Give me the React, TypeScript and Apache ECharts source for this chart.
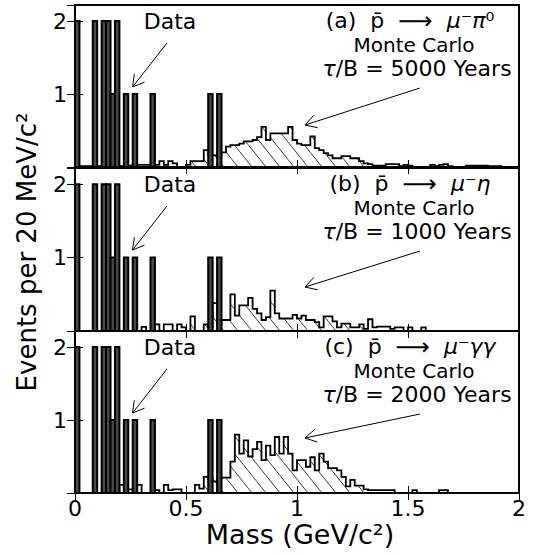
import React, { useEffect, useRef } from "react";
import * as echarts from "echarts";

// ---------- data ----------
const BIN_WIDTH = 0.02; // 20 MeV/c^2 bins
const X_MIN = 0;
const X_MAX = 2;
const Y_MAX = 2.22;
const xTickLabels = ["0", "0.5", "1", "1.5", "2"];

// measured events (same in every panel): bin index -> count
const dataBins = [0, 4, 6, 7, 8, 9, 11, 13, 17, 30, 32];
const dataCounts = [2, 2, 2, 2, 1, 2, 1, 1, 1, 1, 1];

// Monte Carlo histograms, 100 bins of 20 MeV from 0 to 2 GeV
const mcA = [
  0.02, 0.01, 0.01, 0.01, 0.01, 0.01, 0.01, 0.01, 0.01, 0.01,
  0.01, 0.01, 0.02, 0.02, 0.03, 0.03, 0.03, 0.03, 0.03, 0.08,
  0.03, 0.08, 0.05, 0, 0, 0.03, 0.08, 0.08, 0.08, 0.23,
  0.16, 0.16, 0.16, 0.2, 0.28, 0.3, 0.3, 0.32, 0.35, 0.35,
  0.37, 0.41, 0.55, 0.37, 0.46, 0.46, 0.46, 0.46, 0.55, 0.37,
  0.32, 0.3, 0.3, 0.42, 0.26, 0.23, 0.19, 0.16, 0.12, 0.12,
  0.15, 0.15, 0.12, 0.12, 0.08, 0.05, 0.04, 0.02, 0.02, 0.02,
  0.04, 0.04, 0.04, 0.01, 0.03, 0.02, 0, 0, 0, 0,
  0.03, 0.01, 0.03, 0.04, 0.01, 0, 0, 0, 0.02, 0.02,
  0.02, 0.02, 0.02, 0.01, 0.01, 0.01, 0, 0, 0, 0,
];
const mcB = [
  0, 0, 0, 0, 0, 0, 0, 0, 0, 0,
  0, 0, 0, 0, 0, 0.055, 0, 0, 0.09, 0,
  0.09, 0.09, 0, 0.09, 0.05, 0, 0.2, 0, 0, 0.09,
  0.05, 0.38, 0.1, 0.15, 0.15, 0.5, 0.21, 0.35, 0.35, 0.45,
  0.3, 0.24, 0.15, 0.19, 0.55, 0.24, 0.17, 0.17, 0.17, 0.22,
  0.17, 0.21, 0.15, 0.15, 0.12, 0.05, 0.2, 0.2, 0.13, 0.05,
  0.1, 0.1, 0.05, 0.05, 0.09, 0.03, 0.16, 0.05, 0.06, 0.06,
  0.06, 0.03, 0.05, 0.05, 0, 0.05, 0, 0, 0.05, 0,
  0, 0, 0, 0, 0, 0, 0, 0, 0, 0,
  0, 0, 0, 0, 0, 0, 0, 0, 0, 0,
];
const mcC = [
  0, 0, 0, 0, 0, 0, 0, 0, 0, 0,
  0.11, 0.05, 0.05, 0, 0.11, 0, 0, 0, 0.04, 0,
  0.11, 0.04, 0.05, 0.05, 0, 0, 0, 0.11, 0.06, 0.22,
  0.2, 0.16, 0.2, 0.21, 0.21, 0.43, 0.8, 0.54, 0.72, 0.5,
  0.6, 0.7, 0.45, 0.65, 0.52, 0.77, 0.54, 0.77, 0.54, 0.31,
  0.45, 0.45, 0.36, 0.49, 0.31, 0.54, 0.43, 0.34, 0.34, 0.31,
  0.22, 0.09, 0.18, 0.1, 0.1, 0.05, 0.04, 0.04, 0.04, 0.04,
  0.04, 0.04, 0, 0, 0, 0, 0.04, 0, 0, 0,
  0, 0, 0.04, 0.04, 0, 0, 0, 0, 0, 0,
  0, 0, 0, 0, 0, 0, 0, 0, 0, 0,
];
const mcSeries = [mcA, mcB, mcC];
const hatchRange = [0.5, 1.32];

const panelTags = ["(a)", "(b)", "(c)"];
const panelFinalStates = [
  "{g|μ}{n|⁻}{g|π}{n|⁰}",
  "{g|μ}{n|⁻}{g|η}",
  "{g|μ}{n|⁻}{g|γγ}",
];
const panelLifetimes = ["5000", "1000", "2000"];

// ---------- layout ----------
const W = 538;
const H = 555;
const GRID_LEFT = 75;
const GRID_RIGHT = 19;
const gridTops = [5, 168, 331];
const gridHeights = [162, 163, 162];
const mcArrowHeadDy = [120, 119, 107];
const FONT = "DejaVu Sans";
const HATCH_SPACING = 14;
const HATCH_SLOPE = 1.25;

function arrow(tail: number[], head: number[]) {
  const dx = tail[0] - head[0];
  const dy = tail[1] - head[1];
  const len = Math.hypot(dx, dy);
  const ux = dx / len;
  const uy = dy / len;
  const ang = (30 * Math.PI) / 180;
  const L = 13;
  const rot = (a: number) => [
    head[0] + L * (ux * Math.cos(a) - uy * Math.sin(a)),
    head[1] + L * (ux * Math.sin(a) + uy * Math.cos(a)),
  ];
  return [
    {
      type: "line",
      shape: { x1: tail[0], y1: tail[1], x2: head[0], y2: head[1] },
      style: { stroke: "#000", lineWidth: 1 },
      silent: true,
    },
    {
      type: "polyline",
      shape: { points: [rot(ang), head, rot(-ang)] },
      style: { stroke: "#000", lineWidth: 1, fill: null },
      silent: true,
    },
  ];
}

function mcRender(values: number[]) {
  return (_params: any, api: any) => {
    const pts: number[][] = [];
    const children: any[] = [];
    values.forEach((v, i) => {
      const x0 = i * BIN_WIDTH;
      const x1 = x0 + BIN_WIDTH;
      const a = api.coord([x0, v]);
      const b = api.coord([x1, v]);
      pts.push(a, b);
      if (v > 0 && x0 >= hatchRange[0] - 1e-9 && x1 <= hatchRange[1] + 1e-9) {
        const yb = api.coord([x0, 0])[1];
        const h = yb - a[1];
        const n0 = Math.ceil(a[0] / HATCH_SPACING);
        const n1 = Math.floor((b[0] + h / HATCH_SLOPE) / HATCH_SPACING);
        for (let n = n0; n <= n1; n++) {
          const k = n * HATCH_SPACING;
          const xs = Math.max(a[0], k - h / HATCH_SLOPE);
          const xe = Math.min(b[0], k);
          if (xe > xs) {
            children.push({
              type: "line",
              shape: {
                x1: xs,
                y1: yb + HATCH_SLOPE * (xs - k),
                x2: xe,
                y2: yb + HATCH_SLOPE * (xe - k),
              },
              style: { stroke: "#222", lineWidth: 0.9 },
            });
          }
        }
      }
    });
    pts.push(api.coord([X_MAX, 0]));
    children.push({
      type: "polyline",
      shape: { points: pts },
      style: { stroke: "#000", lineWidth: 1.8, fill: null, lineJoin: "miter" },
    });
    return { type: "group", children };
  };
}

function dataRender(_params: any, api: any) {
  const x0 = api.value(0);
  const x1 = api.value(1);
  const c = api.value(2);
  const p0 = api.coord([x0, c]);
  const p1 = api.coord([x1, 0]);
  return {
    type: "rect",
    shape: { x: p0[0], y: p0[1], width: p1[0] - p0[0], height: p1[1] - p0[1] },
    style: { fill: "#4a4a4a", stroke: "#000", lineWidth: 2 },
  };
}

export default function App() {
  const ref = useRef<HTMLDivElement>(null);
  useEffect(() => {
    if (!ref.current) return;
    const chart = echarts.init(ref.current, undefined, { renderer: "svg" });

    const grid: any[] = [];
    const xAxis: any[] = [];
    const yAxis: any[] = [];
    const series: any[] = [];
    const graphic: any[] = [];

    for (let k = 0; k < 3; k++) {
      grid.push({
        left: GRID_LEFT,
        right: GRID_RIGHT,
        top: gridTops[k],
        height: gridHeights[k],
        show: true,
        borderColor: "#000",
        borderWidth: 2,
        containLabel: false,
      });
      const tick = {
        show: true,
        inside: true,
        length: 7,
        lineStyle: { color: "#000", width: 1 },
      };
      for (const pos of ["bottom", "top"]) {
        xAxis.push({
          gridIndex: k,
          type: "value",
          position: pos,
          min: X_MIN,
          max: X_MAX,
          interval: 0.5,
          axisLine: { show: false },
          axisTick: tick,
          splitLine: { show: false },
          axisLabel: {
            show: k === 2 && pos === "bottom",
            formatter: (v: number) => xTickLabels[Math.round(v / 0.5)] ?? "",
            color: "#000",
            fontFamily: FONT,
            fontSize: 22,
            lineHeight: 20,
            margin: 5,
          },
        });
      }
      for (const pos of ["left", "right"]) {
        yAxis.push({
          gridIndex: k,
          type: "value",
          position: pos,
          min: 0,
          max: Y_MAX,
          interval: 1,
          axisLine: { show: false },
          axisTick: { ...tick, length: 8 },
          splitLine: { show: false },
          axisLabel: {
            show: pos === "left",
            formatter: (v: number) => (v === 1 || v === 2 ? String(v) : ""),
            color: "#000",
            fontFamily: FONT,
            fontSize: 22,
            margin: 8,
          },
        });
      }

      series.push({
        type: "custom",
        xAxisIndex: 2 * k,
        yAxisIndex: 2 * k,
        clip: true,
        silent: true,
        data: [[0, 0]],
        encode: { x: 0, y: 1 },
        renderItem: mcRender(mcSeries[k]),
      });
      series.push({
        type: "custom",
        xAxisIndex: 2 * k,
        yAxisIndex: 2 * k,
        clip: true,
        silent: true,
        data: dataBins.map((b, i) => [b * BIN_WIDTH, (b + 1) * BIN_WIDTH, dataCounts[i]]),
        encode: { x: [0, 1], y: 2 },
        renderItem: dataRender,
      });

      const top = gridTops[k];
      graphic.push({
        type: "text",
        x: 170,
        y: top + 16,
        style: {
          text: "Data",
          fontFamily: FONT,
          fontSize: 22,
          fill: "#000",
          align: "center",
          verticalAlign: "middle",
        },
      });
      graphic.push(...arrow([167, top + 38], [132.5, top + 82]));
      const rich = {
        n: { fontFamily: FONT, fontSize: 22, fill: "#000" },
        g: { fontFamily: FONT, fontSize: 22, fill: "#000", fontStyle: "italic" },
        a: { fontFamily: FONT, fontSize: 24, fill: "#000" },
      };
      graphic.push({
        type: "text",
        x: 410,
        y: top + 15.5,
        style: {
          text:
            "{n|" + panelTags[k] + "  p̄  }{a|⟶}{n|  }" + panelFinalStates[k],
          align: "center",
          verticalAlign: "middle",
          fill: "#000",
          fontFamily: FONT,
          fontSize: 22,
          rich,
        },
      });
      graphic.push({
        type: "text",
        x: 414,
        y: top + 39.5,
        style: {
          text: "Monte Carlo",
          align: "center",
          verticalAlign: "middle",
          fill: "#000",
          fontFamily: FONT,
          fontSize: 20,
        },
      });
      graphic.push({
        type: "text",
        x: 417,
        y: top + 63.5,
        style: {
          text: "{g|τ}{n|/B = " + panelLifetimes[k] + " Years}",
          align: "center",
          verticalAlign: "middle",
          fill: "#000",
          fontFamily: FONT,
          fontSize: 22,
          rich: {
            n: { fontFamily: FONT, fontSize: 22, fill: "#000" },
            g: { fontFamily: FONT, fontSize: 22, fill: "#000", fontStyle: "italic" },
          },
        },
      });
      graphic.push(...arrow([420, top + 83], [305, top + mcArrowHeadDy[k]]));
    }

    graphic.push({
      type: "text",
      x: 27,
      y: 252,
      rotation: Math.PI / 2,
      style: {
        text: "Events per 20 MeV/c²",
        align: "center",
        verticalAlign: "middle",
        fill: "#000",
        fontFamily: FONT,
        fontSize: 26,
      },
    });
    graphic.push({
      type: "text",
      x: 300,
      y: 534,
      style: {
        text: "Mass (GeV/c²)",
        align: "center",
        verticalAlign: "middle",
        fill: "#000",
        fontFamily: FONT,
        fontSize: 27,
        lineHeight: 26,
      },
    });

    chart.setOption({
      animation: false,
      backgroundColor: "#fff",
      grid,
      xAxis,
      yAxis,
      series,
      graphic: { elements: graphic },
    });
    return () => chart.dispose();
  }, []);

  return (
    <div
      ref={ref}
      style={{ position: "fixed", left: 0, top: 0, width: W, height: H }}
    />
  );
}
